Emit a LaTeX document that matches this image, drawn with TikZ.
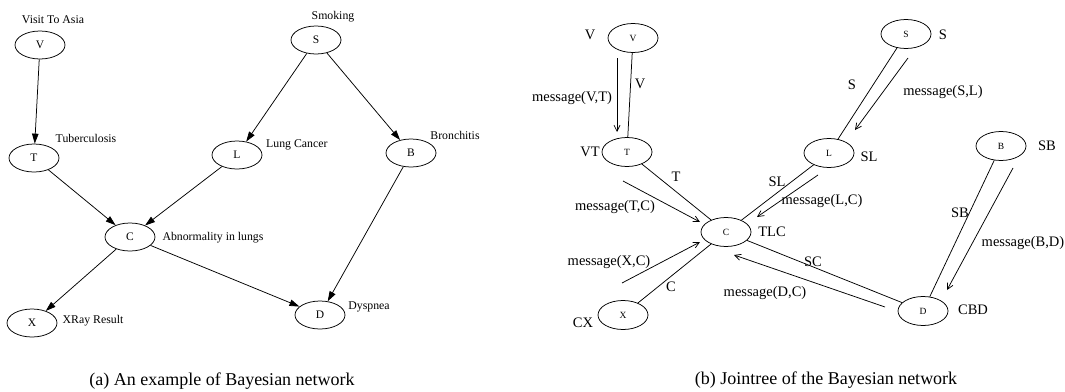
\documentclass[tikz,border=0pt]{standalone}
\usepackage{fontspec}
\setmainfont{Liberation Serif}
\usetikzlibrary{shapes.geometric,arrows.meta}
\begin{document}
\begin{tikzpicture}[x=1pt,y=-1pt,
  bnode/.style={draw,ellipse,minimum width=50pt,minimum height=28pt,inner sep=0pt,
    line width=0.75pt,font=\fontsize{11.5}{13}\selectfont},
  jnode/.style={draw,ellipse,minimum width=50pt,minimum height=29pt,inner sep=0pt,
    line width=0.75pt,font=\fontsize{9.5}{11}\selectfont},
  blabel/.style={inner sep=0pt,font=\fontsize{11.8}{14}\selectfont},
  jlabel/.style={inner sep=0pt,font=\fontsize{14.5}{17}\selectfont},
  caption/.style={inner sep=0pt,font=\fontsize{18}{21}\selectfont},
  dep/.style={line width=0.75pt,-{Triangle[length=10pt,width=6.5pt]}},
  sep/.style={line width=0.75pt},
  msg/.style={line width=0.75pt,-{Straight Barb[length=6pt,width=6pt]}}]
\useasboundingbox (0,0) rectangle (1065,391);

% ---------- (a) Bayesian network ----------
\node[bnode] (aV) at (40,45) {V};
\node[bnode] (aT) at (34,158) {T};
\node[bnode] (aL) at (237,155) {L};
\node[bnode] (aS) at (316,40) {S};
\node[bnode] (aB) at (411,153) {B};
\node[bnode] (aC) at (130,237) {C};
\node[bnode] (aX) at (32,323) {X};
\node[bnode] (aD) at (320,315) {D};

\node[blabel] (lV) at (53,20) {Visit To Asia};
\node[blabel] (lT) at (86,138) {Tuberculosis};
\node[blabel,anchor=west] (lL) at (266,145) {Lung Cancer};
\node[blabel] (lS) at (333,17) {Smoking};
\node[blabel] (lB) at (455,135) {Bronchitis};
\node[blabel] (lC) at (213,238) {Abnormality in lungs};
\node[blabel] (lX) at (93,321) {XRay Result};
\node[blabel] (lD) at (369,307) {Dyspnea};

\draw[dep] (aV) -- (aT);
\draw[dep] (aS) -- (aL);
\draw[dep] (aS) -- (aB);
\draw[dep] (aT) -- (aC);
\draw[dep] (aL) -- (aC);
\draw[dep] (aC) -- (aX);
\draw[dep] (aC) -- (aD);
\draw[dep] (aB) -- (aD);

\node[caption] (capa) at (222,381) {(a) An example of Bayesian network};

% ---------- (b) Jointree ----------
\node[jnode] (bV) at (633,38) {V};
\node[jnode] (bT) at (627,152) {T};
\node[jnode] (bS) at (906,34) {S};
\node[jnode] (bL) at (829,153) {L};
\node[jnode] (bB) at (1001,146) {B};
\node[jnode] (bC) at (726,232) {C};
\node[jnode] (bX) at (623,315) {X};
\node[jnode] (bD) at (923,311) {D};

% cluster labels
\node[jlabel] (cV) at (590,35) {V};
\node[jlabel] (cT) at (590,152) {VT};
\node[jlabel] (cS) at (943,35) {S};
\node[jlabel] (cL) at (869,157) {SL};
\node[jlabel] (cB) at (1047,146) {SB};
\node[jlabel] (cC) at (772,232) {TLC};
\node[jlabel] (cX) at (583,323) {CX};
\node[jlabel] (cD) at (973,310) {CBD};

% separators
\draw[sep] (bV) -- (bT);
\draw[sep] (bS) -- (bL);
\draw[sep] (bB) -- (bD);
\draw[sep] (bT) -- (bC);
\draw[sep] (bL) -- (bC);
\draw[sep] (bX) -- (bC);
\draw[sep] (bD) -- (bC);

\node[jlabel] (sVT) at (640,84) {V};
\node[jlabel] (sSL) at (852,85) {S};
\node[jlabel] (sBD) at (960,213) {SB};
\node[jlabel] (sTC) at (676,177) {T};
\node[jlabel] (sLC) at (777,182) {SL};
\node[jlabel] (sXC) at (671,287) {C};
\node[jlabel] (sDC) at (813,262) {SC};

% messages
\coordinate (mVTa) at (617,58);  \coordinate (mVTb) at (617,132);
\coordinate (mSLa) at (908,58);  \coordinate (mSLb) at (855,130);
\coordinate (mBDa) at (1013,168); \coordinate (mBDb) at (947,290);
\coordinate (mTCa) at (623,181); \coordinate (mTCb) at (700,222);
\coordinate (mLCa) at (818,175); \coordinate (mLCb) at (757,217);
\coordinate (mXCa) at (622,283); \coordinate (mXCb) at (700,242);
\coordinate (mDCa) at (885,307); \coordinate (mDCb) at (734,255);
\draw[msg] (mVTa) -- (mVTb);
\draw[msg] (mSLa) -- (mSLb);
\draw[msg] (mBDa) -- (mBDb);
\draw[msg] (mTCa) -- (mTCb);
\draw[msg] (mLCa) -- (mLCb);
\draw[msg] (mXCa) -- (mXCb);
\draw[msg] (mDCa) -- (mDCb);

\node[jlabel] (tVT) at (572,98) {message(V,T)};
\node[jlabel] (tSL) at (943,92) {message(S,L)};
\node[jlabel] (tBD) at (1023,243) {message(B,D)};
\node[jlabel] (tTC) at (615,207) {message(T,C)};
\node[jlabel] (tLC) at (822,201) {message(L,C)};
\node[jlabel] (tXC) at (609,262) {message(X,C)};
\node[jlabel] (tDC) at (765,293) {message(D,C)};

\node[caption] (capb) at (826,380) {(b) Jointree of the Bayesian network};
\end{tikzpicture}
\end{document}
